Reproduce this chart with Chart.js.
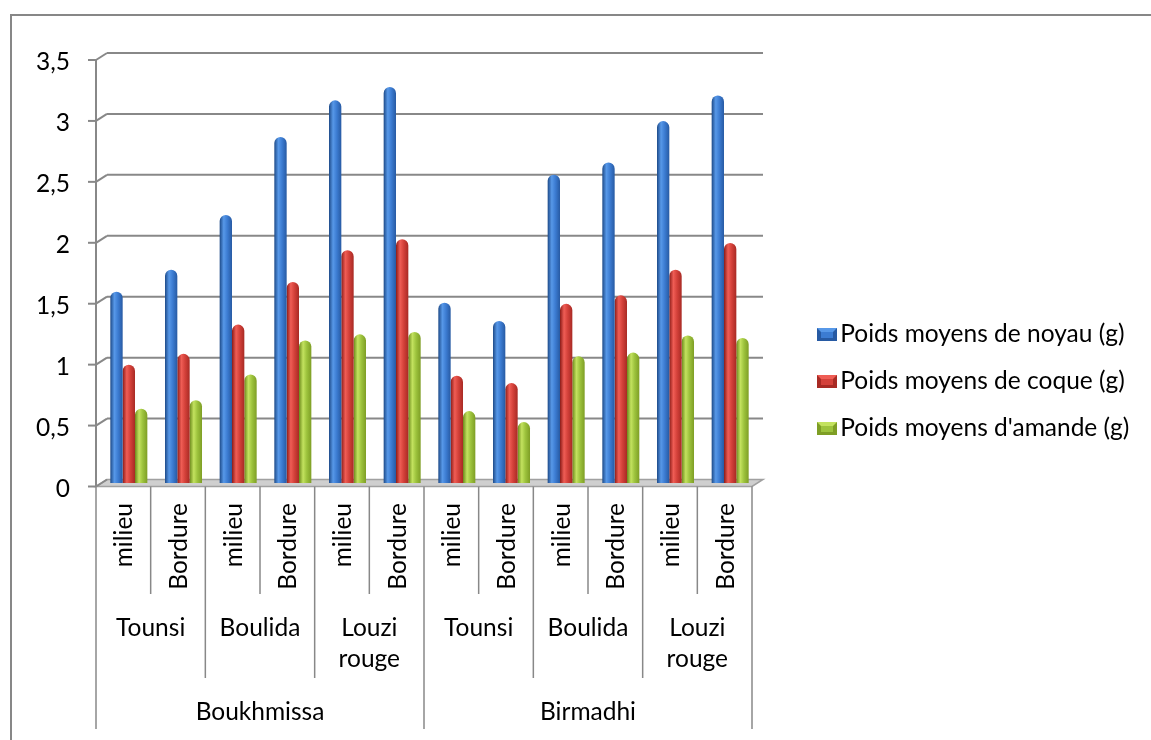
<!DOCTYPE html>
<html>
<head>
<meta charset="utf-8">
<title>Poids moyens</title>
<script src="https://cdn.jsdelivr.net/npm/chart.js@4.4.1/dist/chart.umd.min.js"></script>
<style>
  html, body { margin: 0; padding: 0; background: #ffffff; }
  canvas { display: block; }
</style>
</head>
<body>
<canvas id="chart" width="1151" height="740"></canvas>
<script>
// ---- data ----
const positions = ['milieu', 'Bordure', 'milieu', 'Bordure', 'milieu', 'Bordure',
                   'milieu', 'Bordure', 'milieu', 'Bordure', 'milieu', 'Bordure'];
const varieties = ['Tounsi', 'Boulida', 'Louzi rouge', 'Tounsi', 'Boulida', 'Louzi rouge'];
const sites = ['Boukhmissa', 'Birmadhi'];
const seriesNames = ['Poids moyens de noyau (g)', 'Poids moyens de coque (g)', "Poids moyens d'amande (g)"];
const noyau  = [1.57, 1.75, 2.20, 2.84, 3.14, 3.25, 1.48, 1.33, 2.53, 2.63, 2.97, 3.18];
const coque  = [0.97, 1.06, 1.30, 1.65, 1.91, 2.00, 0.88, 0.82, 1.47, 1.54, 1.75, 1.97];
const amande = [0.61, 0.68, 0.89, 1.17, 1.22, 1.24, 0.59, 0.50, 1.04, 1.07, 1.21, 1.19];
const yTickValues = [0, 0.5, 1, 1.5, 2, 2.5, 3, 3.5];

// ---- look ----
const FONT = 'Lato, "Open Sans", sans-serif';
const FONT_SIZE = 24.5;
const GRID = '#888888';
const CAT_PCT = 0.677;              // share of a category taken by its three bars
const DEPTH_X = 5.5, DEPTH_Y = 3.5; // half depth of the 3-D box (front / back offsets)
const palettes = [
  ['#1d4a88', '#5798e8', '#3c7cd2', '#275aa3'],
  ['#8c1b17', '#ef5d55', '#d4413a', '#a82a24'],
  ['#6b891b', '#c3e25f', '#9dc33d', '#7e9e25']
];

// plot box (bars sit at mid depth)
const AREA = { left: 101.5, right: 757.5, top: 56.5, bottom: 483 };
const CANVAS_W = 1151, CANVAS_H = 740;
const PAD_BOTTOM = 33.5;

function barFill(ctx) {
  const pal = palettes[ctx.datasetIndex] || palettes[0];
  const chart = ctx.chart;
  const xs = chart.scales && chart.scales.x;
  if (ctx.type !== 'data' || !chart.chartArea || !xs) return pal[2];
  const cw = xs.width / positions.length;
  const group = cw * CAT_PCT;
  const w = group / 3;
  const x0 = xs.getPixelForValue(ctx.dataIndex) - group / 2 + w * ctx.datasetIndex;
  const g = chart.ctx.createLinearGradient(x0, 0, x0 + w, 0);
  g.addColorStop(0, pal[0]);
  g.addColorStop(0.33, pal[1]);
  g.addColorStop(0.62, pal[2]);
  g.addColorStop(1, pal[3]);
  return g;
}

// bevelled legend keys; the key sits at the right end of a wider transparent canvas
function makeKey(pal) {
  const c = document.createElement('canvas');
  c.width = 66; c.height = 13;
  const g = c.getContext('2d');
  const x = 46, w = 20, h = 13;
  g.fillStyle = pal[3];
  g.fillRect(x, 0, w, h);
  g.fillStyle = pal[1];
  g.beginPath();
  g.moveTo(x, 0); g.lineTo(x + w, 0); g.lineTo(x + w - 4, 4); g.lineTo(x + 4, 4);
  g.closePath(); g.fill();
  g.fillStyle = pal[2];
  g.fillRect(x + 4, 4, w - 8, h - 7);
  return c;
}
const keyImages = palettes.map(makeKey);

function line(c, x1, y1, x2, y2) {
  c.beginPath(); c.moveTo(x1, y1); c.lineTo(x2, y2); c.stroke();
}

// frame, back wall grid, floor, front value axis and the category rows
const boxPlugin = {
  id: 'box3d',
  beforeDraw(chart) {
    const c = chart.ctx;
    c.save();
    c.fillStyle = '#ffffff';
    c.fillRect(0, 0, chart.width, chart.height);
    c.strokeStyle = '#878787';
    c.lineWidth = 2;
    line(c, 10, 15, chart.width, 15);
    line(c, 11, 14, 11, chart.height);
    c.restore();
  },
  beforeDatasetsDraw(chart) {
    const c = chart.ctx, ys = chart.scales.y, xs = chart.scales.x;
    const L = xs.left, R = xs.right;
    c.save();
    // floor
    const y0 = ys.getPixelForValue(0);
    c.fillStyle = '#cfcfcf';
    c.beginPath();
    c.moveTo(L - DEPTH_X, y0 + DEPTH_Y);
    c.lineTo(R - DEPTH_X, y0 + DEPTH_Y);
    c.lineTo(R + DEPTH_X, y0 - DEPTH_Y);
    c.lineTo(L + DEPTH_X, y0 - DEPTH_Y);
    c.closePath();
    c.fill();
    c.lineWidth = 1.5;
    c.strokeStyle = '#a0a0a0';
    c.stroke();
    c.strokeStyle = GRID;
    c.lineWidth = 2;
    // gridlines on the back wall, joined to the ticks of the front axis
    yTickValues.forEach(v => {
      const y = ys.getPixelForValue(v);
      if (v > 0) line(c, L + DEPTH_X, y - DEPTH_Y, R + DEPTH_X, y - DEPTH_Y);
      line(c, L - DEPTH_X - 8, y + DEPTH_Y, L - DEPTH_X, y + DEPTH_Y);
      line(c, L - DEPTH_X, y + DEPTH_Y, L + DEPTH_X, y - DEPTH_Y);
    });
    // front value axis
    line(c, L - DEPTH_X, ys.getPixelForValue(3.5) + DEPTH_Y, L - DEPTH_X, y0 + DEPTH_Y);
    c.restore();
  },
  afterDraw(chart) {
    const c = chart.ctx, xs = chart.scales.x, ys = chart.scales.y;
    const n = positions.length;
    const cw = xs.width / n;
    const frontLeft = xs.left - DEPTH_X;
    const yTop = ys.getPixelForValue(0) + DEPTH_Y;
    const rowEnds = [594, 678, 729];
    c.save();
    c.strokeStyle = GRID;
    c.lineWidth = 1.5;
    for (let k = 0; k <= n; k++) {
      const x = frontLeft + k * cw;
      const end = (k % 6 === 0) ? rowEnds[2] : (k % 2 === 0 ? rowEnds[1] : rowEnds[0]);
      line(c, x, yTop, x, end);
    }
    c.fillStyle = '#000000';
    c.font = FONT_SIZE + 'px ' + FONT;
    // first row: rotated position labels
    positions.forEach((p, i) => {
      const cx = frontLeft + (i + 0.5) * cw;
      c.save();
      c.translate(cx, 503);
      c.rotate(-Math.PI / 2);
      c.textAlign = 'right';
      c.textBaseline = 'middle';
      c.fillText(p, 0, 1);
      c.restore();
    });
    // second row: varieties (two categories each)
    c.textAlign = 'center';
    c.textBaseline = 'middle';
    varieties.forEach((v, j) => {
      const cx = frontLeft + (j * 2 + 1) * cw;
      v.split(' ').forEach((wd, r) => c.fillText(wd, cx, 628 + r * 31));
    });
    // third row: sites (six categories each)
    sites.forEach((s, j) => {
      const cx = frontLeft + (j * 6 + 3) * cw;
      c.fillText(s, cx, 712);
    });
    c.restore();
  }
};

const datasets = [noyau, coque, amande].map((values, i) => ({
  label: seriesNames[i],
  data: values,
  backgroundColor: barFill,
  borderWidth: 0,
  borderSkipped: 'start',
  borderRadius: { topLeft: 6.2, topRight: 6.2, bottomLeft: 0, bottomRight: 0 },
  categoryPercentage: CAT_PCT,
  barPercentage: 1.0
}));

const chart = new Chart(document.getElementById('chart'), {
  type: 'bar',
  data: { labels: positions, datasets },
  plugins: [boxPlugin],
  options: {
    responsive: false,
    animation: false,
    events: [],
    layout: {
      padding: { left: 0, top: AREA.top, bottom: PAD_BOTTOM, right: 20 }
    },
    scales: {
      x: {
        grid: { display: false, drawTicks: false },
        border: { display: false },
        ticks: { display: false },
        afterFit(scale) { scale.height = CANVAS_H - PAD_BOTTOM - AREA.bottom; }
      },
      y: {
        min: 0,
        max: 3.5,
        afterBuildTicks(scale) { scale.ticks = yTickValues.map(v => ({ value: v })); },
        grid: { display: false, drawTicks: false },
        border: { display: false },
        ticks: {
          padding: 31.5,
          labelOffset: 6,
          color: '#000000',
          font: { family: FONT, size: FONT_SIZE },
          callback: v => String(v).replace('.', ',')
        },
        afterFit(scale) { scale.width = AREA.left; }
      }
    },
    plugins: {
      tooltip: { enabled: false },
      legend: {
        position: 'right',
        align: 'center',
        maxWidth: 2000,
        labels: {
          usePointStyle: true,
          pointStyleWidth: 48,
          padding: 22.5,
          color: '#000000',
          font: { family: FONT, size: FONT_SIZE },
          generateLabels(ch) {
            return ch.data.datasets.map((ds, i) => ({
              text: ds.label,
              pointStyle: keyImages[i],
              fillStyle: palettes[i][2],
              strokeStyle: 'rgba(0,0,0,0)',
              lineWidth: 0,
              hidden: false,
              datasetIndex: i
            }));
          }
        }
      }
    }
  }
});

// keep the plot box right edge fixed whatever the legend width turns out to be
const drift = chart.chartArea.right - AREA.right;
if (Math.abs(drift) > 0.01) {
  chart.options.layout.padding.right += drift;
  chart.update();
}
</script>
</body>
</html>
